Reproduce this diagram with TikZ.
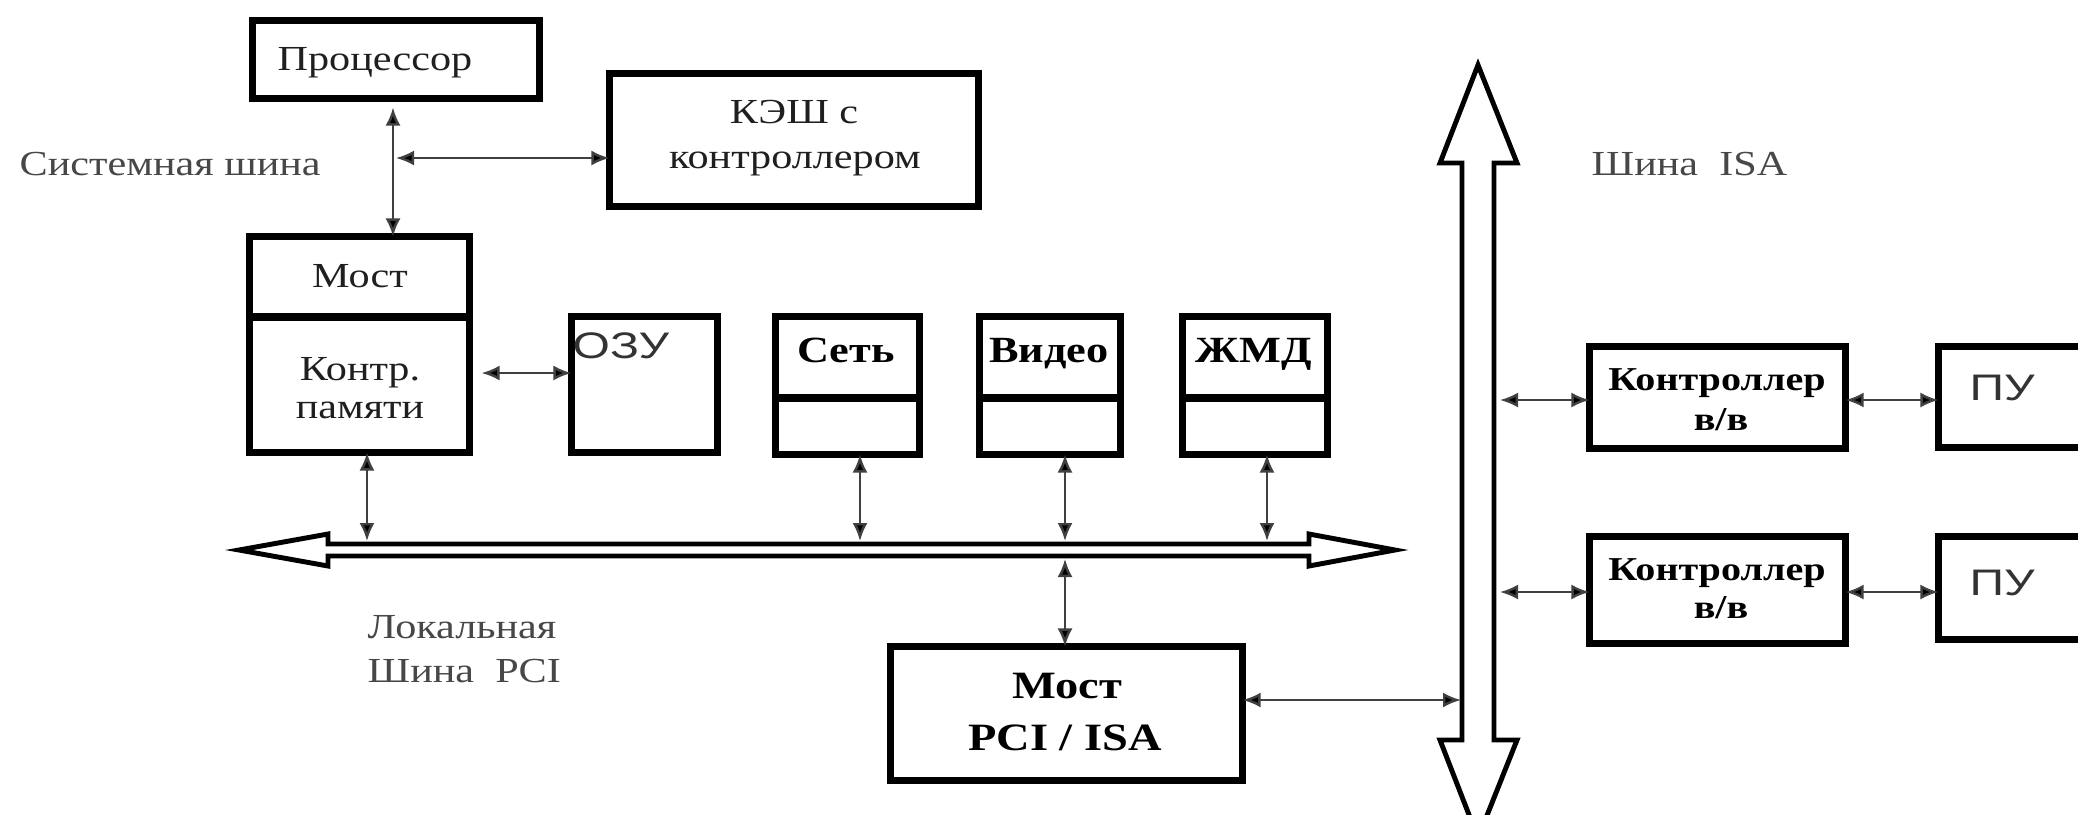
\documentclass[tikz,border=0pt]{standalone}
\usepackage{fontspec}
\setmainfont{Liberation Serif}[FakeStretch=1.2]
\newfontfamily\pusans{Liberation Sans}[FakeStretch=1.3]
\usetikzlibrary{arrows.meta}
\begin{document}
\begin{tikzpicture}[x=0.01cm,y=-0.01cm,
  box/.style={draw, line width=2pt, inner sep=0pt, outer sep=0pt},
  bus/.style={draw, line width=1.4pt, line join=miter, fill=white},
  conn/.style={line width=0.7pt, draw=black!75, {Latex[length=1.8mm,width=1.5mm,fill=black]}-{Latex[length=1.8mm,width=1.5mm,fill=black]}},
  txt/.style={inner sep=0pt, anchor=base, text=black!88, font=\fontsize{10}{12}\selectfont},
  btxt/.style={inner sep=0pt, anchor=base, text=black, font=\fontsize{10.5}{12}\selectfont\bfseries},
  stxt/.style={inner sep=0pt, anchor=base, text=black!80, font=\fontsize{10.5}{12}\selectfont\pusans},
  lbl/.style={inner sep=0pt, anchor=base west, text=black!72, font=\fontsize{10}{12}\selectfont}
]
\useasboundingbox (0,0) rectangle (2078,814);
\clip (0,0) rectangle (2078,814);
\fill[white] (0,0) rectangle (2078,814);

% ---------- boxes ----------
\node[box, minimum width=2.87cm, minimum height=0.78cm] (proc) at (396,59.5) {};
\node[box, minimum width=3.69cm, minimum height=1.33cm] (cache) at (794,140) {};
\node[box, minimum width=2.20cm, minimum height=0.805cm] (most) at (359.5,276.75) {};
\node[box, minimum width=2.20cm, minimum height=1.355cm] (kontr) at (359.5,384.75) {};
\node[box, minimum width=1.46cm, minimum height=1.36cm] (ozu) at (644.5,384.5) {};
\node[box, minimum width=1.44cm, minimum height=0.815cm] (set1) at (847.5,357.25) {};
\node[box, minimum width=1.44cm, minimum height=0.565cm] (set2) at (847.5,426.25) {};
\node[box, minimum width=1.41cm, minimum height=0.815cm] (vid1) at (1050,357.25) {};
\node[box, minimum width=1.41cm, minimum height=0.565cm] (vid2) at (1050,426.25) {};
\node[box, minimum width=1.45cm, minimum height=0.815cm] (zmd1) at (1255,357.25) {};
\node[box, minimum width=1.45cm, minimum height=0.565cm] (zmd2) at (1255,426.25) {};
\node[box, minimum width=3.52cm, minimum height=1.34cm] (bridge) at (1066.5,713.5) {};
\node[box, minimum width=2.56cm, minimum height=1.02cm] (k1) at (1717.5,397.5) {};
\node[box, minimum width=2.56cm, minimum height=1.07cm] (k2) at (1717.5,590) {};
\node[box, minimum width=1.815cm, minimum height=1.01cm] (pu1) at (2029.25,397) {};
\node[box, minimum width=1.815cm, minimum height=1.03cm] (pu2) at (2029.25,588) {};

% ---------- buses ----------
\path[bus] (239,550) -- (328,534) -- (328,544) -- (1309,544) -- (1309,534) -- (1395,550)
  -- (1309,566) -- (1309,556) -- (328,556) -- (328,566) -- cycle;
\path[bus] (1478,65) -- (1517,163) -- (1494,163) -- (1494,740) -- (1517,740) -- (1478,838)
  -- (1440,740) -- (1462,740) -- (1462,163) -- (1440,163) -- cycle;

% ---------- texts ----------
\node[txt] (tproc) at (375,70) {Процессор};
\node[txt] (tcache1) at (794,123) {КЭШ с};
\node[txt] (tcache2) at (795,168) {контроллером};
\node[lbl] (tsys) at (19,175) {Системная шина};
\node[txt] (tmost) at (360,287) {Мост};
\node[txt] (tk1) at (360,380) {Контр.};
\node[txt] (tk2) at (360,418) {памяти};
\node[stxt, anchor=base west] (tozu) at (572,358) {ОЗУ};
\node[btxt] (tset) at (846,362) {Сеть};
\node[btxt] (tvid) at (1049,362) {Видео};
\node[btxt] (tzmd) at (1254,362) {ЖМД};
\node[btxt, font=\fontsize{9.5}{12}\selectfont\bfseries] (tc1a) at (1717,390) {Контроллер};
\node[btxt, font=\fontsize{9.5}{12}\selectfont\bfseries] (tc1b) at (1721,430) {в/в};
\node[btxt, font=\fontsize{9.5}{12}\selectfont\bfseries] (tc2a) at (1717,580) {Контроллер};
\node[btxt, font=\fontsize{9.5}{12}\selectfont\bfseries] (tc2b) at (1721,618) {в/в};
\node[stxt] (tpu1) at (2002,400) {ПУ};
\node[stxt] (tpu2) at (2002,595) {ПУ};
\node[btxt, font=\fontsize{11}{12}\selectfont\bfseries] (tb1) at (1067,698) {Мост};
\node[btxt, font=\fontsize{11}{12}\selectfont\bfseries] (tb2) at (1065,750) {PCI / ISA};
\node[lbl] (tloc1) at (367,638) {Локальная};
\node[lbl] (tloc2) at (367,682) {Шина\ \ PCI};
\node[lbl] (tisa) at (1591,175) {Шина\ \ ISA};

% ---------- connectors ----------
\coordinate (sv) at (393,0);
\draw[conn, shorten <=0.9mm] (sv |- proc.south) -- (sv |- most.north);
\coordinate (sj) at (396,158);
\draw[conn] (sj) -- (sj -| cache.west);
\coordinate (ko) at (0,373);
\draw[conn, shorten <=1.2mm] (ko -| kontr.east) -- (ko -| ozu.west);

\coordinate (pb1) at (367,541);
\coordinate (pb2) at (860,541);
\coordinate (pb3) at (1065,541);
\coordinate (pb4) at (1267,541);
\coordinate (pb5) at (1065,559);
\draw[conn] (pb1 |- kontr.south) -- (pb1);
\draw[conn] (pb2 |- set2.south) -- (pb2);
\draw[conn] (pb3 |- vid2.south) -- (pb3);
\draw[conn] (pb4 |- zmd2.south) -- (pb4);
\draw[conn] (pb5) -- (pb5 |- bridge.north);

\coordinate (ia) at (1461,700);
\draw[conn] (ia -| bridge.east) -- (ia);
\coordinate (ib1) at (1500,400);
\coordinate (ib2) at (1500,592);
\draw[conn] (ib1) -- (ib1 -| k1.west);
\draw[conn] (ib2) -- (ib2 -| k2.west);
\draw[conn] (ib1 -| k1.east) -- (ib1 -| pu1.west);
\draw[conn] (ib2 -| k2.east) -- (ib2 -| pu2.west);
\end{tikzpicture}
\end{document}
